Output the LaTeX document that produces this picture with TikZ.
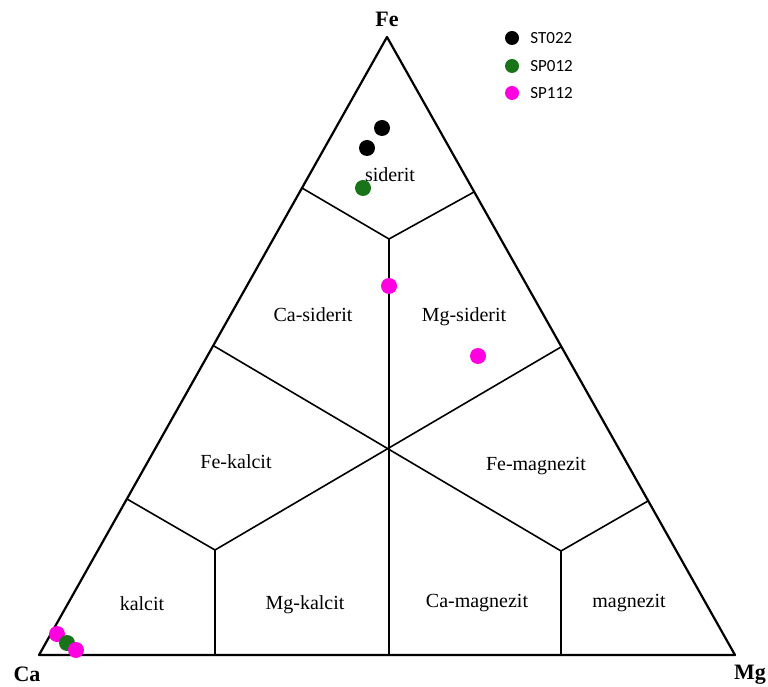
\documentclass[tikz,border=0pt]{standalone}
\usepackage{fontspec}
\setmainfont{Liberation Serif}
\newfontfamily\keyfont{Carlito}
\usetikzlibrary{positioning}
\definecolor{spgreen}{RGB}{25,115,25}
\definecolor{sppink}{RGB}{255,0,225}

\begin{document}
\begin{tikzpicture}[x=1pt, y=1pt, frame/.style={line width=2.2pt, line join=round},
                    border/.style={line width=1.6pt},
                    field/.style={font=\fontsize{20}{20}\selectfont, anchor=base},
                    corner/.style={font=\fontsize{22}{22}\selectfont\bfseries},
                    sample/.style={circle, fill=#1, inner sep=0pt, minimum size=16pt},
                    key/.style={font=\keyfont\fontsize{17}{17}\selectfont, inner sep=0pt}]
    \useasboundingbox (0,0) rectangle (768,686);

    % corners of the triangle
    \coordinate (fe) at (387,649);
    \coordinate (ca) at (39,31);
    \coordinate (mg) at (735,31);

    % points on the sides and inside
    \coordinate (feL) at (302,498);
    \coordinate (feR) at (474,494);
    \coordinate (feJ) at (389,447);
    \coordinate (midL) at (214,340);
    \coordinate (midR) at (561,339);
    \coordinate (caS) at (127,187);
    \coordinate (caJ) at (215,136);
    \coordinate (caB) at (215,31);
    \coordinate (mgS) at (648,185);
    \coordinate (mgJ) at (561,135);
    \coordinate (mgB) at (561,31);
    \coordinate (feB) at (389,31);

    \draw[frame] (ca) -- (fe) -- (mg) -- cycle;

    \draw[border] (feL) -- (feJ) -- (feR);
    \draw[border] (feJ) -- (feB);
    \draw[border] (midL) -- (mgJ) -- (mgB);
    \draw[border] (mgJ) -- (mgS);
    \draw[border] (midR) -- (caJ) -- (caB);
    \draw[border] (caJ) -- (caS);

    \node[corner, above=7pt of fe] (feLabel) {Fe};
    \node[corner] (caLabel) at (27,12) {Ca};
    \node[corner] (mgLabel) at (750,11) {Mg};

    \path
        node[field] (siderit) at (390,504) {siderit}
        node[field] (casiderit) at (313,364) {Ca-siderit}
        node[field] (mgsiderit) at (464,364) {Mg-siderit}
        node[field] (fekalcit) at (236,218) {Fe-kalcit}
        node[field] (femagnezit) at (536,216) {Fe-magnezit}
        node[field] (kalcit) at (142,76) {kalcit}
        node[field] (mgkalcit) at (305,77) {Mg-kalcit}
        node[field] (camagnezit) at (477,79) {Ca-magnezit}
        node[field] (magnezit) at (629,79) {magnezit};

    % samples
    \node[sample=black] (st1) at (382,558) {};
    \node[sample=black] (st2) at (367,538) {};
    \node[sample=spgreen] (sp1) at (363,498) {};
    \node[sample=sppink] (sq1) at (389,400) {};
    \node[sample=sppink] (sq2) at (478,330) {};
    \node[sample=sppink] (sq3) at (57,52) {};
    \node[sample=spgreen] (sp2) at (67,43) {};
    \node[sample=sppink] (sq4) at (76,36) {};

    % legend
    \node[sample=black, minimum size=14pt] (k1) at (512,648) {};
    \node[sample=spgreen, minimum size=14pt] (k2) at (512,620) {};
    \node[sample=sppink, minimum size=14pt] (k3) at (512,593) {};
    \node[key, right=11pt of k1] (l1) {ST022};
    \node[key, right=11pt of k2] (l2) {SP012};
    \node[key, right=11pt of k3] (l3) {SP112};
\end{tikzpicture}
\end{document}
